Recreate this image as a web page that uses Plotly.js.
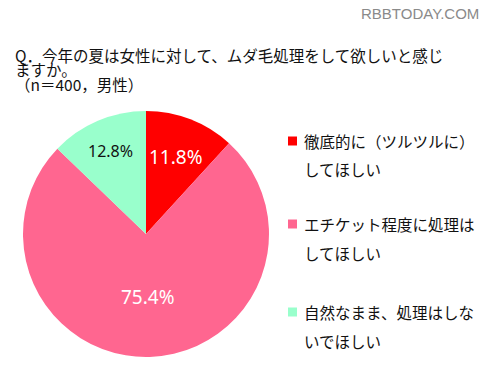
<!DOCTYPE html>
<html>
<head>
<meta charset="utf-8">
<script src="https://cdn.plot.ly/plotly-3.0.1.min.js"></script>
<style>html,body{margin:0;padding:0;background:#fff;}#chart{width:486px;height:378px;}</style>
</head>
<body>
<div id="chart"></div>
<script>
// ---- data ----
const categories = ["徹底的に（ツルツルに）してほしい", "エチケット程度に処理はしてほしい", "自然なまま、処理はしないでほしい"];
const legendLine1 = ["徹底的に（ツルツルに）", "エチケット程度に処理は", "自然なまま、処理はしな"];
const legendLine2 = ["してほしい", "してほしい", "いでほしい"];
const values = [11.8, 75.4, 12.8];
const colors = ["#ff0000", "#ff6690", "#99ffcc"];
const textColors = ["#ffffff", "#ffffff", "#111111"];
const titleLines = ["Q．今年の夏は女性に対して、ムダ毛処理をして欲しいと感じ", "ますか。", "（n＝400，男性）"];
const watermark = "RBBTODAY.COM";

const W = 486, H = 378;
const px = x => x / W;
const py = y => 1 - y / H;
const JP = "Noto Sans CJK JP";

const cx = 146, cy = 234, r = 123;

const trace = {
  type: "pie",
  labels: categories,
  values: values,
  sort: false,
  direction: "clockwise",
  rotation: 0,
  marker: {colors: colors, line: {width: 0}},
  textinfo: "none",
  hoverinfo: "label+percent",
  showlegend: false,
  domain: {x: [px(cx - r), px(cx + r)], y: [py(cy + r), py(cy - r)]}
};

const annotations = [];
const shapes = [];

// percentage labels, placed at each slice's mid-angle
const labelRadius = [0.675, 0.51, 0.73];
const labelSize = [19, 19, 16];
const total = values.reduce((a, b) => a + b, 0);
let cum = 0;
values.forEach((v, i) => {
  const mid = (cum + v / 2) / total * 2 * Math.PI;
  cum += v;
  const rr = r * labelRadius[i];
  const x = cx + rr * Math.sin(mid);
  const y = cy - rr * Math.cos(mid);
  annotations.push({text: v.toFixed(1) + "%", x: px(x), y: py(y), xref: "paper", yref: "paper",
    xanchor: "center", yanchor: "middle", showarrow: false,
    font: {family: "Noto Sans", size: labelSize[i], color: textColors[i]}});
});

const titleY = [55, 69.5, 84];
titleLines.forEach((t, i) => {
  annotations.push({text: t, x: px(13), y: py(titleY[i]), xref: "paper", yref: "paper",
    xanchor: "left", yanchor: "middle", showarrow: false,
    font: {family: JP, size: 15.5, color: "#111"}});
});
annotations.push({text: watermark, x: px(481), y: py(14), xref: "paper", yref: "paper",
  xanchor: "right", yanchor: "middle", showarrow: false,
  font: {family: "Liberation Sans", size: 15, color: "#8a8a8a"}});

const itemY = [141, 224, 312];
const lineGap = 28.5;
categories.forEach((c, i) => {
  const y0 = itemY[i];
  shapes.push({type: "rect", xref: "paper", yref: "paper",
    x0: px(288), x1: px(297), y0: py(y0 - 4.5), y1: py(y0 + 4.5),
    fillcolor: colors[i], line: {width: 0}});
  annotations.push({text: legendLine1[i], x: px(302), y: py(y0), xref: "paper", yref: "paper",
    xanchor: "left", yanchor: "middle", showarrow: false,
    font: {family: JP, size: 15.5, color: "#111"}});
  annotations.push({text: legendLine2[i], x: px(302), y: py(y0 + lineGap), xref: "paper", yref: "paper",
    xanchor: "left", yanchor: "middle", showarrow: false,
    font: {family: JP, size: 15.5, color: "#111"}});
});

const layout = {
  width: W, height: H,
  margin: {l: 0, r: 0, t: 0, b: 0},
  paper_bgcolor: "#ffffff",
  showlegend: false,
  annotations: annotations,
  shapes: shapes
};

Plotly.newPlot("chart", [trace], layout, {displayModeBar: false, staticPlot: true});
</script>
</body>
</html>
